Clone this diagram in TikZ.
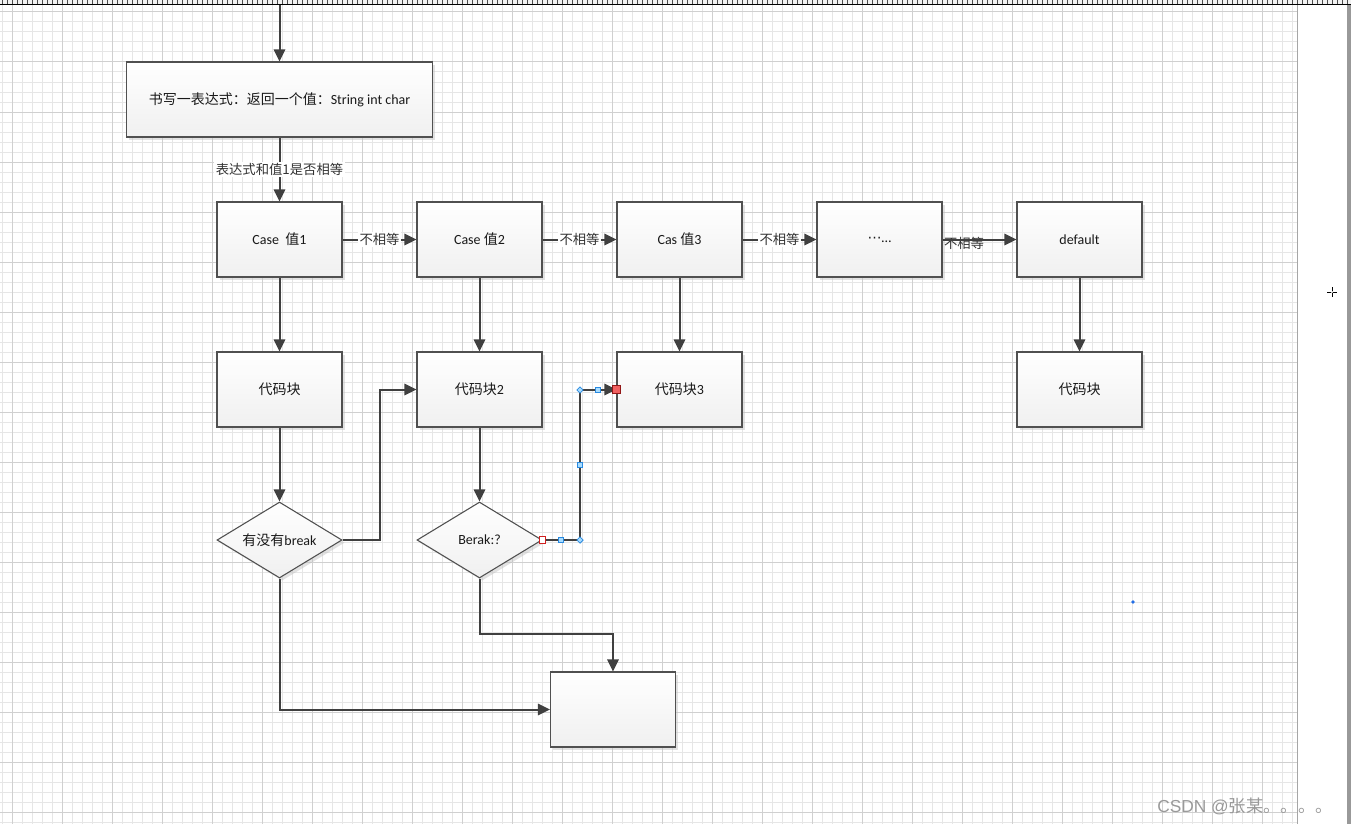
\documentclass[tikz,border=0pt]{standalone}
\usepackage{fontspec}
\setmainfont{Carlito}
\newfontfamily\cjk{Noto Sans CJK SC}
\newfontfamily\dvs{DejaVu Sans}
\newfontfamily\wmfont{Liberation Sans}
\usetikzlibrary{shapes.geometric,arrows.meta,shadows,calc}
\definecolor{linec}{HTML}{404040}
\definecolor{boxc}{HTML}{505050}
\definecolor{gridminor}{HTML}{E6E6E6}
\definecolor{gridmajor}{HTML}{D0D0D0}
\definecolor{hblue}{HTML}{2A8AE0}
\definecolor{hbluef}{HTML}{A8DCFF}
\definecolor{hred}{HTML}{D02020}
\definecolor{hredf}{HTML}{F06060}
\tikzset{
  minorline/.style={draw=gridminor, line width=0.75pt},
  majorline/.style={draw=gridmajor, line width=0.75pt},
  shapebase/.style={draw=boxc, line width=0.8pt, top color=white, bottom color=black!6,
     inner sep=0pt, font=\fontsize{10.5}{12}\selectfont, text=black!90,
     drop shadow={shadow xshift=2pt, shadow yshift=-2pt, fill=black!25, opacity=0.45}},
  box/.style={shapebase, rectangle, minimum width=93.75pt, minimum height=56.25pt},
  bigbox/.style={shapebase, rectangle, minimum width=229.5pt, minimum height=56.25pt},
  decision/.style={shapebase, diamond, aspect=1.64, minimum width=93.75pt, minimum height=57pt},
  arr/.style={draw=linec, line width=1.5pt, -{Triangle[length=9pt,width=8.5pt]}},
  lbl/.style={fill=white, inner sep=1pt, font=\cjk\fontsize{10}{12}\selectfont, text=black!80},
  hbox/.style={draw=hblue, fill=hbluef, line width=0.6pt, minimum size=3.6pt, inner sep=0pt},
  hdia/.style={draw=hblue, fill=hbluef, line width=0.6pt, diamond, minimum size=5pt, inner sep=0pt},
}
\begin{document}
\begin{tikzpicture}[x=0.75pt,y=-0.75pt]
\useasboundingbox (0,0) rectangle (1351,824);
\fill[white] (0,0) rectangle (1351,824);
% grid
\foreach \x in {2,12,...,1292} \draw[minorline] (\x,5) -- (\x,824);
\foreach \y in {12,22,...,822} \draw[minorline] (0,\y) -- (1297,\y);
\foreach \x in {12,62,...,1262} \draw[majorline] (\x,5) -- (\x,824);
\foreach \y in {12,62,...,812} \draw[majorline] (0,\y) -- (1297,\y);
\draw[draw=black!35, line width=0.75pt] (1297.5,5) -- (1297.5,824);
\fill[black!40] (1347,5) rectangle (1351,824);
% top ruler
\fill[black!5] (0,0) rectangle (1351,4);
\foreach \x in {2,7,...,1350} \draw[black!70, line width=0.5pt] (\x,0) -- (\x,4);
\draw[black, line width=1.2pt] (0,4.5) -- (1351,4.5);
% crosshair
\draw[black, line width=0.7pt] (1327,292) -- (1337,292) (1332,287) -- (1332,297);
\fill[white] (1332,292) circle (1.2);
% blue dot
\fill[hblue!80!blue] (1133,602) circle (1.8);

% nodes
\coordinate (top) at (279.5,5);
\node[bigbox] (expr) at (279.5,99.5) {{\cjk 书写一表达式：返回一个值：}String int char};
\node[box] (c1) at (279.5,239.5) {Case\ \ {\cjk 值}1};
\node[box] (c2) at (479.5,239.5) {Case {\cjk 值}2};
\node[box] (c3) at (679.5,239.5) {Cas {\cjk 值}3};
\node[box] (c4) at (879.5,239.5) {{\dvs ⋯}…};
\node[box] (dflt) at (1079.5,239.5) {default};
\node[box] (b1) at (279.5,389.5) {{\cjk 代码块}};
\node[box] (b2) at (479.5,389.5) {{\cjk 代码块}2};
\node[box] (b3) at (679.5,389.5) {{\cjk 代码块}3};
\node[box] (bd) at (1079.5,389.5) {{\cjk 代码块}};
\node[decision] (q1) at (279.5,540) {{\cjk 有没有}break};
\node[decision] (q2) at (479.5,540) {Berak:?};
\node[box] (fin) at (613,709.5) {};

\coordinate (j1) at (379.5,540);
\coordinate (j2) at (580,540);
\coordinate (j3) at (479.5,634);

% connectors
\draw[arr] (top) -- (expr);
\draw[arr] (expr) -- node[lbl] {表达式和值1是否相等} (c1);
\draw[arr] (c1) -- node[lbl] {不相等} (c2);
\draw[arr] (c2) -- node[lbl] {不相等} (c3);
\draw[arr] (c3) -- node[lbl] {不相等} (c4);
\node[lbl, fill=none] (l4) at (964,243) {不相等};
\draw[arr] (c4) -- (dflt);
\draw[arr] (c1) -- (b1);
\draw[arr] (c2) -- (b2);
\draw[arr] (c3) -- (b3);
\draw[arr] (dflt) -- (bd);
\draw[arr] (b1) -- (q1);
\draw[arr] (b2) -- (q2);
\draw[arr] (q1.east) -- (j1) |- (b2.west);
\draw[arr] (q2.east) -- (j2) |- (b3.west);
\draw[arr] (q1.south) |- (fin.west);
\draw[arr] (q2.south) -- (j3) -| (fin.north);

% selection handles on the Berak connector
\node[draw=hred, fill=white, line width=0.6pt, minimum size=5pt, inner sep=0pt] (h1) at (q2.east) {};
\node[hbox] (h2) at (561,540) {};
\node[hdia] (h3) at (j2) {};
\node[hbox] (h4) at (580,465) {};
\node[hdia] (h5) at (580,390) {};
\node[hbox] (h6) at (598,390) {};
\node[draw=hred!70!black, fill=hredf, line width=0.6pt, minimum size=5.5pt, inner sep=0pt] (h7) at (b3.west) {};

% watermark
\node[anchor=base west, inner sep=0pt, text=black!40, font=\fontsize{13}{15}\selectfont] (wm) at (1157,812) {{\wmfont CSDN @}{\cjk 张某。。。。}};
\end{tikzpicture}
\end{document}
